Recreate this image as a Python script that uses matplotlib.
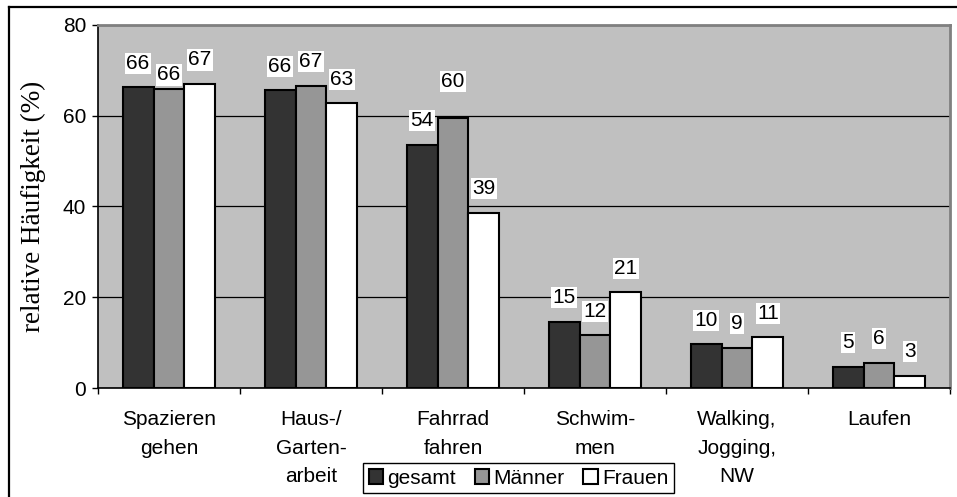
import numpy as np
import matplotlib
matplotlib.use("Agg")
import matplotlib.pyplot as plt
from matplotlib.lines import Line2D

plt.rcParams['font.family'] = ['Liberation Sans', 'DejaVu Sans']

# data
categories = ["Spazieren\ngehen", "Haus-/\nGarten-\narbeit", "Fahrrad\nfahren",
              "Schwim-\nmen", "Walking,\nJogging,\nNW", "Laufen"]
gesamt = [66.3, 65.6, 53.6, 14.6, 9.6, 4.7]
maenner = [65.9, 66.6, 59.6, 11.6, 8.9, 5.6]
frauen = [67.0, 62.7, 38.6, 21.1, 11.2, 2.7]
series_names = ["gesamt", "Männer", "Frauen"]
y_ticks = [0, 20, 40, 60, 80]

colors = ["#333333", "#969696", "#ffffff"]

# a few labels sit a bit lower/higher than the rest (pixels)
label_shift = {(0, 1): -10, (2, 1): 12}

fs = 15

fig = plt.figure(figsize=(9.57, 4.97), dpi=100)
ax = fig.add_axes([98 / 957, 1 - 388 / 497, 852 / 957, 363 / 497])
ax.set_facecolor("#c0c0c0")

x = np.arange(len(categories))
width = 0.218
data = [gesamt, maenner, frauen]

bars = []
for i, (vals, name, col) in enumerate(zip(data, series_names, colors)):
    b = ax.bar(x + (i - 1) * width, vals, width, color=col, edgecolor="black",
               linewidth=1.5, label=name, zorder=3)
    bars.append(b)
    for j, v in enumerate(vals):
        off = (24 + label_shift.get((j, i), 0)) * 72 / 100
        ax.annotate(f"{v:.0f}", (x[j] + (i - 1) * width, v), xytext=(0, off),
                    textcoords="offset points", ha="center", va="center",
                    fontsize=fs, zorder=4,
                    bbox=dict(boxstyle="square,pad=0.05", fc="white", ec="none"))

ax.set_xlim(-0.5, len(categories) - 0.5)
ax.set_ylim(0, 80)
ax.set_yticks(y_ticks)
ax.yaxis.grid(True, color="black", linewidth=0.9, zorder=1)
ax.set_axisbelow(True)

ax.set_xticks(x)
ax.set_xticklabels(categories, fontsize=fs, linespacing=1.63)
ax.set_xticks(np.arange(len(categories) + 1) - 0.5, minor=True)
ax.tick_params(axis="x", which="major", length=0, pad=16)
ax.tick_params(axis="x", which="minor", length=4.5, width=1, direction="out")
ax.tick_params(axis="y", length=4.5, width=1, direction="out", pad=4,
               labelsize=fs)

for s in ["left", "bottom"]:
    ax.spines[s].set_color("black")
    ax.spines[s].set_linewidth(1.2)
for s in ["top", "right"]:
    ax.spines[s].set_color("#808080")
    ax.spines[s].set_linewidth(2)

fig.text(33 / 957, 1 - 206 / 497, "relative Häufigkeit (%)", rotation=90,
         ha="center", va="center", fontsize=19.5, family="Liberation Serif")

leg = fig.legend(handles=bars, labels=series_names, loc="center",
                 bbox_to_anchor=(518.5 / 957, 1 - 478 / 497), ncol=3,
                 fontsize=fs, frameon=True, fancybox=False, framealpha=1,
                 edgecolor="black", handlelength=0.7, handleheight=0.7,
                 handletextpad=0.2, columnspacing=0.9, borderpad=0.25,
                 borderaxespad=0)
leg.get_frame().set_linewidth(1)

# outer chart frame (only left and top edges are inside the picture)
fig.add_artist(Line2D([9 / 957, 9 / 957], [0, 1 - 7 / 497], color="black",
                      linewidth=1.6, transform=fig.transFigure))
fig.add_artist(Line2D([9 / 957, 1], [1 - 7 / 497, 1 - 7 / 497], color="black",
                      linewidth=1.6, transform=fig.transFigure))

fig.savefig("out.png", dpi=100)
